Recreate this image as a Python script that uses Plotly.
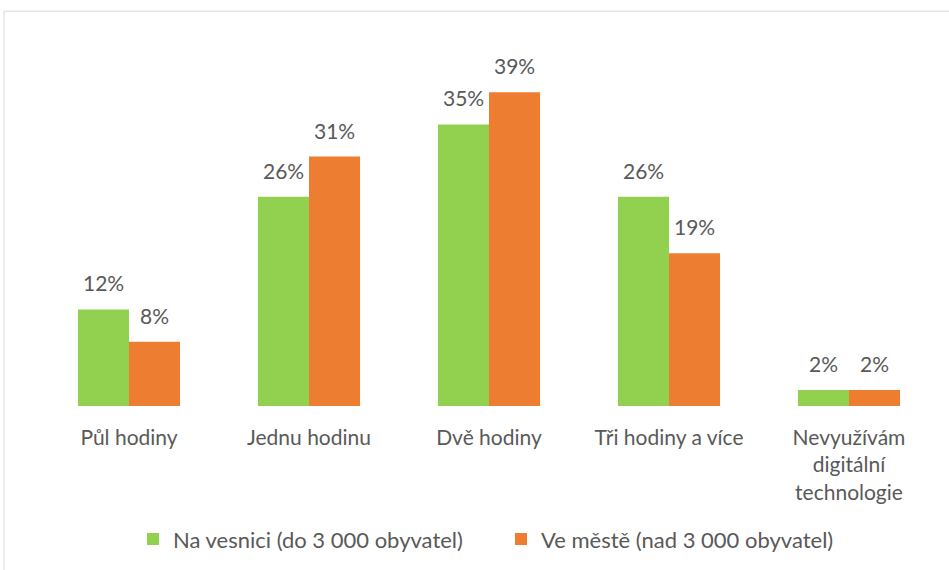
import plotly.graph_objects as go

categories = ["Půl hodiny", "Jednu hodinu", "Dvě hodiny", "Tři hodiny a více",
              "Nevyužívám<br>digitální<br>technologie"]
series_names = ["Na vesnici (do 3 000 obyvatel)", "Ve městě (nad 3 000 obyvatel)"]
vesnice = [12, 26, 35, 26, 2]
mesto = [8, 31, 39, 19, 2]
colors = ["#92D050", "#ED7D31"]

FONT = "Lato, 'Liberation Sans', sans-serif"
TXT = "#595959"
FS = 21
bargap = 0.433
bar_w = (1 - bargap) / 2

W, H = 949, 570
ml, mr, mt, mb = 39, 10, 44, 162
ymax = 45

fig = go.Figure()
idx = list(range(len(categories)))
for name, vals, col in zip(series_names, [vesnice, mesto], colors):
    fig.add_trace(go.Bar(x=idx, y=vals, name=name, marker_color=col,
                         marker_line_width=0, hoverinfo="skip"))

annotations = []
for k, vals in enumerate([vesnice, mesto]):
    off = (k - 0.5) * bar_w
    for i, v in enumerate(vals):
        annotations.append(dict(x=i + off, y=v, text=f"{v}%", showarrow=False,
                                yanchor="bottom", yshift=12,
                                font=dict(family=FONT, size=FS, color=TXT)))

pw = W - ml - mr
ph = H - mt - mb
fig.add_shape(type="rect", xref="paper", yref="paper",
              x0=(4 - ml) / pw, x1=(960 - ml) / pw,
              y0=(H - mb - 580) / ph, y1=(H - mb - 11) / ph,
              line=dict(color="#D9D9D9", width=1), fillcolor="rgba(0,0,0,0)",
              layer="below")

fig.update_layout(
    width=W, height=H, margin=dict(l=ml, r=mr, t=mt, b=mb),
    paper_bgcolor="white", plot_bgcolor="white",
    barmode="group", bargap=bargap, bargroupgap=0,
    font=dict(family=FONT, size=FS, color=TXT),
    xaxis=dict(tickmode="array", tickvals=idx, ticktext=categories,
               range=[-0.5, len(categories) - 0.5], showgrid=False,
               zeroline=False, showline=False, ticks="", ticklen=0,
               ticklabelstandoff=17,
               tickfont=dict(family=FONT, size=FS, color=TXT)),
    yaxis=dict(range=[0, ymax], visible=False),
    legend=dict(orientation="h", x=(133 - ml) / pw, xanchor="left",
                y=(H - mb - 542) / ph,
                yanchor="middle", font=dict(family=FONT, size=22, color=TXT),
                entrywidth=323, entrywidthmode="pixels", traceorder="normal"),
    annotations=annotations,
    showlegend=True,
)

fig.write_html("out.html", config={"displayModeBar": False},
               post_script="document.body.style.margin='0';")
